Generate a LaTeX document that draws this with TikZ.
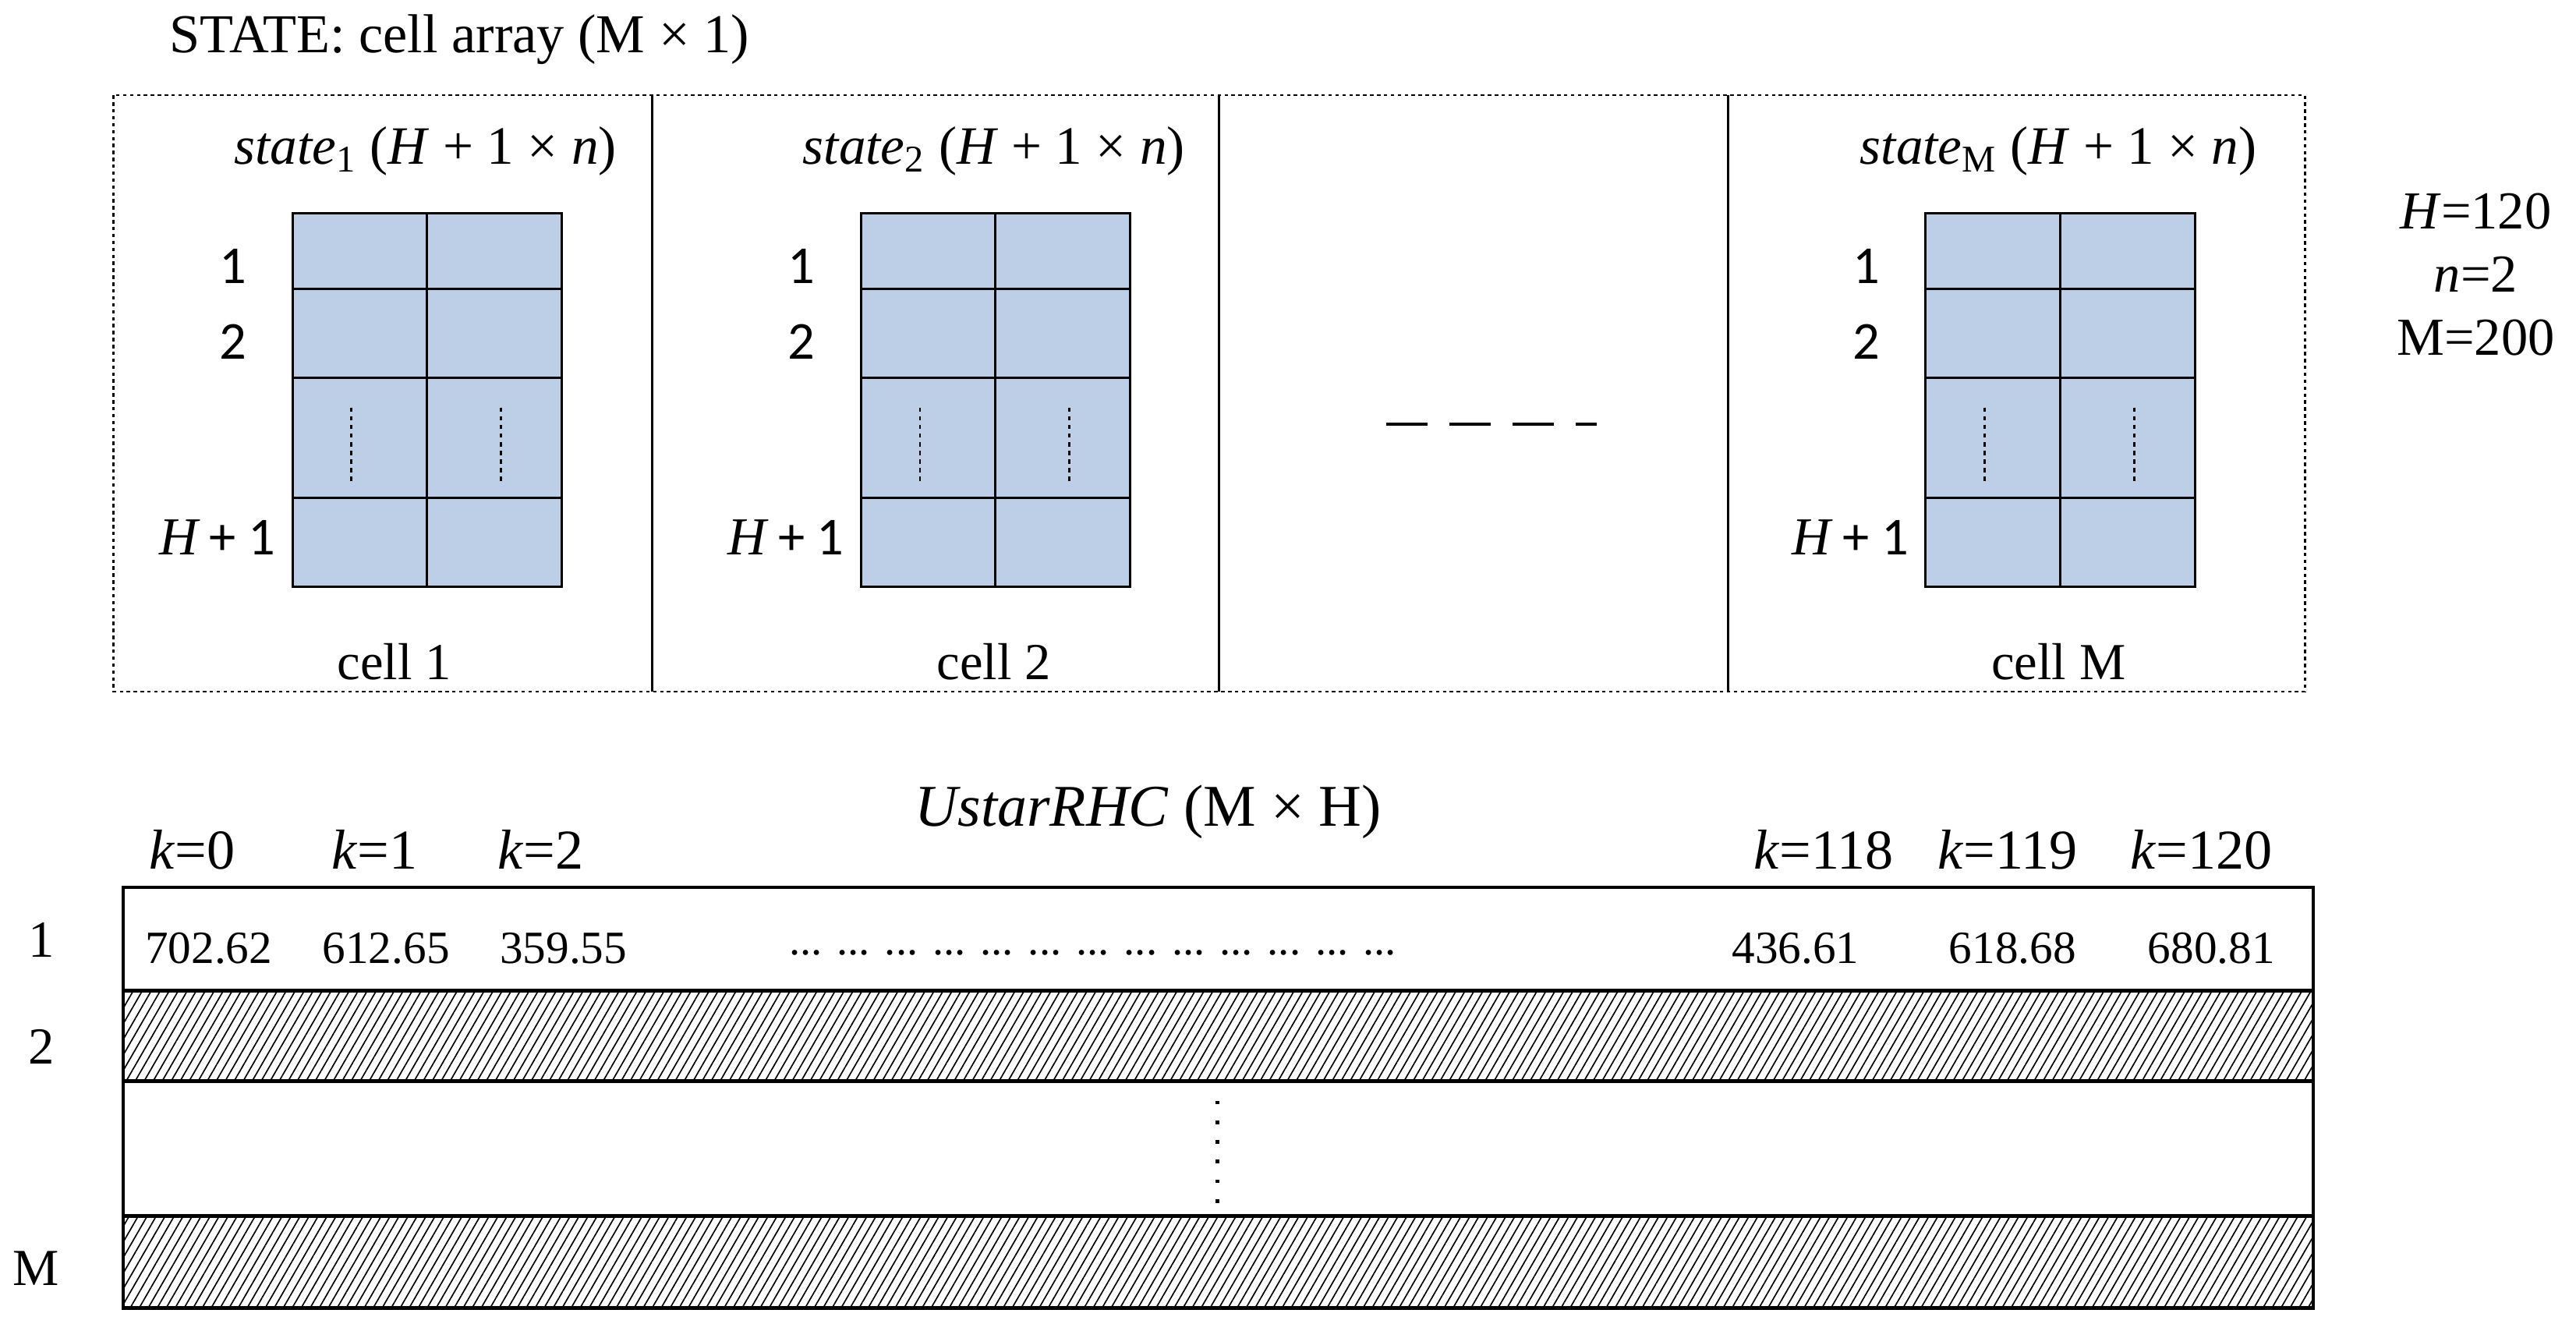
\documentclass[tikz,border=0pt]{standalone}
\usepackage{fontspec}
\setmainfont{Liberation Serif}
\newfontfamily\calfont{Carlito}
\usetikzlibrary{patterns.meta}
\definecolor{gridblue}{RGB}{188,207,231}
\tikzset{
  txt/.style={inner sep=0pt, font=\fontsize{18}{20}\selectfont},
  smalltxt/.style={inner sep=0pt, font=\fontsize{16}{19}\selectfont},
  sanstxt/.style={inner sep=0pt, font=\calfont\fontsize{18.5}{20}\selectfont},
  gridline/.style={line width=0.8pt, black},
  celldiv/.style={line width=0.7pt, black},
  outerbox/.style={line width=0.7pt, dash pattern=on 1.2pt off 1.2pt},
  tabline/.style={line width=1.2pt, black},
  hatch/.style={pattern={Lines[angle=60,distance=2.7pt,line width=0.45pt]}},
  vdots/.style={line width=0.8pt, dash pattern=on 1.5pt off 1.5pt},
}
\begin{document}
\begin{tikzpicture}[x=0.02cm, y=-0.02cm]
\useasboundingbox (0,0) rectangle (1568,810);

% title
\node[txt, anchor=west, font=\fontsize{19}{20}\selectfont] (title) at (103,24) {STATE: cell array (M ×  1)};

% outer dotted box and dividers
\draw[outerbox] (69,58) rectangle (1403,421);
\draw[celldiv] (397,58) -- (397,421);
\draw[celldiv] (742,58) -- (742,421);
\draw[celldiv] (1052,58) -- (1052,421);

% state grids
\foreach \x/\s/\c/\cx [count=\i] in {178/1/cell 1/240, 524/2/cell 2/605, 1172/{\textup{M}}/cell M/1253}{
  \fill[gridblue] (\x,130) rectangle ++(164,227);
  \draw[gridline] (\x,130) rectangle ++(164,227);
  \draw[gridline] (\x+82,130) -- (\x+82,357);
  \foreach \yy in {176,230,303}{\draw[gridline] (\x,\yy) -- (\x+164,\yy);}
  \draw[vdots] (\x+36,248) -- (\x+36,294);
  \draw[vdots] (\x+127,248) -- (\x+127,294);
  \node[txt, font=\fontsize{18.7}{20}\selectfont] (st\i) at (\x+81,92) {\textit{state}\textsubscript{\s} (\textit{H} + 1 ×  \textit{n})};
  \node[sanstxt] (r1\i) at (\x-36,162) {1};
  \node[sanstxt] (r2\i) at (\x-36,208) {2};
  \node[sanstxt, anchor=east] (rh\i) at (\x-10,327) {{\fontspec{Liberation Serif}\itshape H} + 1};
  \node[txt] (cap\i) at (\cx,403) {\c};
}

% dashes between cells
\coordinate (dA) at (844,258);
\coordinate (dB) at (972,258);
\draw[line width=1.1pt, dash pattern=on 0.5cm off 0.266cm] (dA) -- (dB);

% parameters
\node[txt, align=center, font=\fontsize{18.5}{21.9}\selectfont] (params) at (1507,167)
  {\textit{H}=120\\ \textit{n}=2\\ M=200};

% bottom table
\node[txt, font=\fontsize{20.5}{22}\selectfont] (utitle) at (699,494) {\textit{UstarRHC} (M × H)};
\foreach \kx/\kl [count=\i] in {117/0, 228/1, 329/2, 1110/118, 1222/119, 1340/120}{
  \node[txt, font=\fontsize{19.5}{20}\selectfont] (k\i) at (\kx,517) {\textit{k}=\kl};
}
\fill[hatch] (75,603) rectangle (1408,658);
\fill[hatch] (75,740) rectangle (1408,796);
\draw[tabline] (75,540) rectangle (1408,796);
\foreach \yy in {603,658,740}{\draw[tabline] (75,\yy) -- (1408,\yy);}

\foreach \vx/\vl [count=\i] in {127/702.62, 235/612.65, 343/359.55, 1093/436.61, 1225/618.68, 1346/680.81}{
  \node[smalltxt] (v\i) at (\vx,577) {\vl};
}
\node[smalltxt, anchor=west, font=\fontsize{15.3}{18}\selectfont] (ell) at (480,580) {... ... ... ... ... ... ... ... ... ... ... ... ...};
\foreach \d in {0,...,5}{
  \fill (741-1.1,671+12*\d-1.1) rectangle ++(2.2,2.2);
}

\node[txt] (row1) at (25,572) {1};
\node[txt] (row2) at (25,637) {2};
\node[txt] (rowM) at (22,772) {M};
\end{tikzpicture}
\end{document}
